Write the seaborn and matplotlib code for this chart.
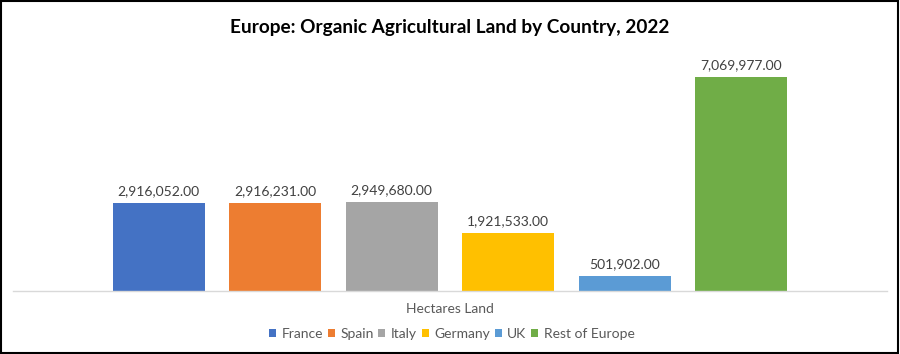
import matplotlib
matplotlib.use("Agg")
import matplotlib.pyplot as plt
import seaborn as sns
import pandas as pd
from matplotlib.patches import Rectangle

countries = ["France", "Spain", "Italy", "Germany", "UK", "Rest of Europe"]
hectares = [2916052.00, 2916231.00, 2949680.00, 1921533.00, 501902.00, 7069977.00]
category = "Hectares Land"
colors = ["#4472C4", "#ED7D31", "#A5A5A5", "#FFC000", "#5B9BD5", "#70AD47"]
title = "Europe: Organic Agricultural Land by Country, 2022"

df = pd.DataFrame({"cat": [category] * len(countries), "country": countries, "value": hectares})

sns.set_theme(style="white")
plt.rcParams["font.family"] = ["Lato", "DejaVu Sans"]

fig = plt.figure(figsize=(9.0, 3.54), dpi=100)
ax = fig.add_axes([0.0144, 0.178, 0.9712, 0.684])

sns.barplot(data=df, x="cat", y="value", hue="country", hue_order=countries,
            palette=colors, width=0.8, gap=0.21, ax=ax, legend=True,
            edgecolor="none", linewidth=0, saturation=1)

ax.set_xlim(-0.5, 0.5)
ax.set_ylim(0, 8000000)
for c in ax.containers:
    ax.bar_label(c, labels=[f"{v:,.2f}" for v in c.datavalues], padding=4,
                 fontsize=10, color="#404040")

for s in ["left", "right", "top"]:
    ax.spines[s].set_visible(False)
ax.spines["bottom"].set_color("#D9D9D9")
ax.spines["bottom"].set_linewidth(1)
ax.set_yticks([])
ax.set_xticks([])
ax.set_ylabel("")
ax.set_xlabel(category, fontsize=10, color="#595959", labelpad=9)

handles, labels = ax.get_legend_handles_labels()
ax.get_legend().remove()
fig.legend(handles, labels, loc="center", bbox_to_anchor=(0.502, 0.057), ncol=6,
           frameon=False, fontsize=10, handlelength=0.5, handleheight=0.5,
           handletextpad=0.4, columnspacing=0.35, labelcolor="#595959")

fig.suptitle(title, x=0.5, y=0.945, fontsize=13.7, fontweight="bold", color="black")

fig.patches.append(Rectangle((0.001, 0.002), 0.997, 0.995, transform=fig.transFigure,
                             fill=False, edgecolor="black", linewidth=1.5))

fig.savefig("out.png", dpi=100)
